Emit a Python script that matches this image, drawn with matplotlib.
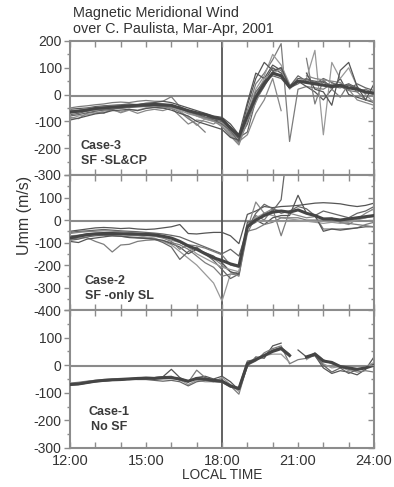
"""
Magnetic meridional wind over Cachoeira Paulista, Mar-Apr 2001
Three stacked panels (Case-3, Case-2, Case-1) sharing the local time axis
"""

import numpy as np
import matplotlib
matplotlib.use("Agg")
import matplotlib.pyplot as plt
from matplotlib.ticker import MultipleLocator

plt.rcParams["font.family"] = ["Liberation Sans", "DejaVu Sans"]

nan = np.nan

# local time grid, every 20 minutes from 12:00 to 24:00
hours = 12 + np.arange(37) / 3.0

# ---- Case-3 : SF -SL&CP ----
c3_a = [-62, -60, -55, -52, -48, -46, -45, -42, -40, -38, -35, -38,
        -40, -50, -65, -75, -85, -95, -100, -130, -165, -110, -10, 50,
        100, 80, 25, 60, 55, 50, 45, 35, 30, 40, 25, 10, 0]
c3_b = [-50, -45, -42, -38, -35, -30, -28, -30, -25, -22, -25, -25,
        -8, -45, -60, -80, -90, -85, -95, -145, -180, -60, 40, 80,
        130, 190, -175, 20, 30, 25, 20, 40, 30, 15, 10, 20, 5]
c3_c = [-90, -80, -75, -70, -62, -58, -65, -55, -58, -50, -48, -52,
        -45, -60, -85, -115, -90, -100, -105, -150, -185, -70, 20, 70,
        150, 110, 40, nan, nan, nan, nan, nan, nan, nan, nan, nan, nan]
c3_d = [-75, -70, -62, -56, -50, -48, -52, -46, -42, -45, -40, -38,
        -42, -55, -60, -70, -85, -90, -100, -120, -160, -140, -20, 30,
        85, 100, 30, 70, 50, 40, 60, 45, 30, 20, 40, 25, 15]
c3_e = [-85, -90, -70, -65, -70, -55, -68, -58, -70, -60, -55, -60,
        -50, -80, -110, -95, -100, -110, -90, -140, -175, -150, -70, -20,
        60, -60, nan, nan, nan, nan, nan, nan, nan, nan, nan, nan, nan]
c3_f = [-55, -52, -50, -45, -42, -40, -38, -35, -38, -32, -30, -25,
        -30, -40, -50, -60, -70, -80, -85, -110, -150, -30, 80, 60,
        110, 90, 30, 50, 30, 10, -20, 20, 60, 0, -10, -20, -30]
c3_g = [-65, -60, -58, -54, -50, -48, -45, -44, -42, -40, -42, -45,
        -50, -65, -90, -110, -140, nan, nan, nan, nan, nan, nan, nan,
        nan, nan, nan, nan, 135, -35, 55, 20, -10, 40, 10, -20, -25]
c3_i = [-70, -65, -60, -58, -55, -52, -50, -48, -45, -44, -40, -42,
        -48, -58, -72, -80, -92, -100, -115, -150, -170, -90, 0, 60,
        80, 95, 20, 50, 60, 165, -150, 120, 60, 100, 30, 0, -30]
c3_k = [-80, -75, -68, -62, -58, -55, -50, -48, -46, -44, -42, -44,
        -46, -52, -62, -75, -85, -95, -110, -135, -175, -80, 10, 50,
        70, 60, 25, 40, 60, 45, 50, 30, 25, 35, 20, 5, 10]
c3_l = [-60, -58, -52, -48, -45, -42, -40, -40, -38, -35, -34, -36,
        -40, -52, -68, -78, -88, -98, -120, -155, -188, -100, -30, 40,
        75, 70, nan, nan, 70, 60, 55, 50, 45, 20, -20, -30, -40]
c3_m = [-95, -88, -80, -72, -68, -60, -58, -55, -60, -52, -48, -50,
        -58, -70, -80, -100, -110, -120, -130, -160, -170, -40, 60, 120,
        90, 100, 30, nan, 80, 20, 10, -40, 90, 120, 30, -20, 40]
c3_mean = [-65, -62, -58, -52, -50, -47, -45, -42, -40, -38, -37, -38,
           -40, -50, -60, -68, -75, -85, -92, -125, -155, -80, -10, 40,
           80, 70, 28, 50, 45, 40, 35, 30, 35, 25, 20, 10, 5]

# ---- Case-2 : SF -only SL ----
c2_a = [-50, -45, -40, -35, -33, -35, -38, -36, -40, -42, -40, -35,
        -30, -20, -60, -62, -58, -55, -55, -70, -105, 25, 40, 60,
        55, 60, 62, 65, 70, 75, 77, 75, 72, 65, 60, 65, 75]
c2_b = [-85, -80, -78, -95, -108, -142, -111, -108, -95, -90, -88, -92,
        -100, -110, -130, -160, -190, -210, -250, -240, -245, -60, 20, 0,
        50, -70, 40, 45, 30, 20, -40, -40, -40, -38, -35, -20, -10]
c2_c = [-75, -70, -65, -62, -60, -62, -65, -68, -70, -75, -80, -95,
        -110, -140, -170, -200, -240, -280, -360, -240, -230, -20, 10, 30,
        20, 10, 5, 0, -5, -10, -15, -10, -5, 0, 5, 10, 15]
c2_d = [-90, -85, -75, -70, -68, -70, -72, -75, -78, -80, -85, -100,
        -120, -175, -140, -120, -150, -180, -220, -260, -240, -30, -10, 30,
        40, 90, 400, nan, nan, nan, nan, nan, nan, nan, nan, nan, nan]
c2_e = [-60, -55, -52, -50, -48, -50, -52, -55, -58, -60, -62, -70,
        -80, -100, -115, -130, -150, -170, -200, -230, -250, -40, 80, 30,
        50, 40, 30, 20, 10, 15, 5, 10, -10, -20, 5, 30, 50]
c2_f = [-95, -100, -85, -80, -75, -70, -72, -78, -80, -82, -85, -90,
        -105, -120, -150, -130, -145, -160, -190, -230, -240, -10, 0, -20,
        10, 20, 20, 110, 30, 20, -50, -40, -45, -40, -35, -30, -30]
c2_g = [-70, -68, -62, -58, -56, -58, -60, -62, -65, -68, -72, -80,
        -95, -130, -110, -115, -125, -140, -155, -200, -210, -50, -40, -20,
        -10, 10, 10, 10, 0, 0, 0, 0, -10, -15, -20, -25, -30]
c2_h = [-80, -75, -70, -65, -62, -60, -60, -62, -64, -66, -70, -78,
        -90, -100, -120, -150, -170, -190, -210, -220, -230, -35, -5, -5,
        -5, -5, -5, -5, -5, -5, -5, -10, -15, -10, 0, 10, 20]
c2_i = [-55, -50, -48, -45, -42, -45, -48, -50, -52, -55, -58, -62,
        -68, -75, -90, -105, -120, -135, -150, -130, -160, -40, 30, 70,
        50, 30, 40, 60, 50, 20, 40, 30, 20, 10, 30, 40, 60]
c2_mean = [-80, -72, -65, -62, -60, -60, -61, -62, -63, -64, -66, -72,
           -80, -95, -115, -130, -150, -168, -180, -195, -205, -30, 0, 20,
           35, 40, 35, 45, 30, 20, 5, 5, 0, 5, 10, 15, 20]

# ---- Case-1 : No SF ----
c1_a = [-72, -70, -65, -60, -56, -55, -52, -50, -50, -47, -45, -42,
        -15, -45, -60, -45, -40, -50, -40, -60, -90, -5, 30, 25,
        70, 80, nan, 55, 30, 35, -10, -30, -20, -25, -35, -15, 30]
c1_b = [-65, -62, -58, -55, -52, -50, -48, -48, -46, -44, -45, -42,
        -40, -55, -62, -18, -45, -52, -55, -75, -105, 0, 15, 45,
        60, 70, 5, 20, 25, 45, 20, 5, -5, -15, -25, -20, -25]
c1_c = [-68, -66, -60, -56, -55, -55, -50, -52, -50, -48, -50, -50,
        -48, -52, -70, -55, -60, -60, -45, -70, -95, 10, 25, 35,
        40, 40, 10, nan, 20, 40, 5, -10, -5, -20, -20, -5, 10]
c1_d = [-70, -68, -63, -60, -58, -55, -55, -50, -52, -52, -55, -58,
        -55, -60, -75, -60, -55, -60, -62, -80, -80, 15, 20, 35,
        55, 65, 40, nan, 25, 35, 0, -25, -10, -30, -15, -10, 0]
c1_mean = [-70, -68, -63, -58, -55, -53, -52, -50, -48, -47, -48, -45,
           -45, -50, -58, -48, -50, -55, -58, -75, -85, 5, 20, 35,
           50, 60, 35, nan, 30, 40, 15, 10, -5, -10, -15, -10, 0]

# axis ticks and labels
x_ticks = [12, 15, 18, 21, 24]
x_labels = ["12:00", "15:00", "18:00", "21:00", "24:00"]
top_yticks = [200, 100, 0, -100, -200, -300]
mid_yticks = [200, 100, 0, -100, -200, -300, -400]
bot_yticks = [200, 100, 0, -100, -200, -300]

panels = [
    dict(lines=[c3_a, c3_b, c3_c, c3_d, c3_e, c3_f, c3_g, c3_i, c3_k, c3_l, c3_m],
         mean=c3_mean, ylim=(-300, 200), yticks=top_yticks, hide_top=False,
         label="Case-3\nSF -SL&CP", lpos=(0.036, 0.16), lha="left",
         rect=[0.1777, 0.6407, 0.7716, 0.2752]),
    dict(lines=[c2_a, c2_b, c2_c, c2_d, c2_e, c2_f, c2_g, c2_h, c2_i],
         mean=c2_mean, ylim=(-400, 200), yticks=mid_yticks, hide_top=True,
         label="Case-2\nSF -only SL", lpos=(0.049, 0.158), lha="left",
         rect=[0.1777, 0.3634, 0.7716, 0.2772]),
    dict(lines=[c1_a, c1_b, c1_c, c1_d],
         mean=c1_mean, ylim=(-300, 200), yticks=bot_yticks, hide_top=True,
         label="Case-1\nNo SF", lpos=(0.128, 0.208), lha="center",
         rect=[0.1777, 0.0801, 0.7716, 0.2834]),
]

thin_colors = ["#555555", "#7c7c7c", "#999999", "#666666", "#888888"]
spine_col = "#8c8c8c"
text_col = "#333333"

fig = plt.figure(figsize=(3.94, 4.87), dpi=100)

for k, p in enumerate(panels):
    ax = fig.add_axes(p["rect"])
    ax.set_xlim(12, 24)
    ax.set_ylim(*p["ylim"])

    # zero line and 18 LT marker
    ax.axhline(-4, color="#8a8a8a", lw=1.5, zorder=1)
    ax.axvline(18, color="#555555", lw=1.3, zorder=1)

    for j, y in enumerate(p["lines"]):
        ax.plot(hours, y, color=thin_colors[j % len(thin_colors)], lw=0.9, zorder=2)
    ax.plot(hours, p["mean"], color="#454545", lw=2.2, zorder=3)

    for s in ax.spines.values():
        s.set_color(spine_col)
        s.set_linewidth(1.5)

    # y axis: ticks out on the left
    ax.set_yticks(p["yticks"])
    labels = [str(v) for v in p["yticks"]]
    if p["hide_top"]:
        labels[0] = ""
    ax.set_yticklabels(labels)
    ax.yaxis.set_minor_locator(MultipleLocator(50))
    ax.tick_params(axis="y", which="major", direction="out", length=4, width=1,
                   color=spine_col, labelsize=10, labelcolor=text_col, pad=2)
    ax.tick_params(axis="y", which="minor", direction="out", length=2.5, width=1,
                   color=spine_col)

    # x axis: ticks in, top and bottom, every hour
    ax.set_xticks(x_ticks)
    ax.xaxis.set_minor_locator(MultipleLocator(1))
    ax.tick_params(axis="x", which="both", direction="in", top=True, bottom=True,
                   length=4, width=1, color=spine_col, labelsize=10.5,
                   labelcolor=text_col, pad=4)
    if k == 2:
        ax.set_xticklabels(x_labels)
        ax.set_xlabel("LOCAL TIME", fontsize=9.8, color=text_col, labelpad=0)
    else:
        ax.set_xticklabels([])

    # right side ticks pointing inward
    axr = ax.twinx()
    axr.set_ylim(*p["ylim"])
    axr.set_yticks(p["yticks"])
    axr.yaxis.set_minor_locator(MultipleLocator(50))
    axr.tick_params(axis="y", which="major", direction="in", length=4, width=1,
                    color=spine_col, labelright=False)
    axr.tick_params(axis="y", which="minor", direction="in", length=2.5, width=1,
                    color=spine_col)
    for s in axr.spines.values():
        s.set_visible(False)

    ax.text(p["lpos"][0], p["lpos"][1], p["label"], transform=ax.transAxes,
            ha=p["lha"], va="center", fontsize=9, fontweight="bold",
            color="#3a3a3a", linespacing=1.3, multialignment="center" if p["lha"] == "center" else "left")

fig.text(0.185, 0.988, "Magnetic Meridional Wind\nover C. Paulista, Mar-Apr, 2001",
         ha="left", va="top", fontsize=10.4, color=text_col, linespacing=1.2)
fig.text(0.063, 0.5585, "Umm (m/s)", rotation=90, ha="center", va="center",
         fontsize=11.5, color=text_col)

plt.savefig("out.png", dpi=100)
